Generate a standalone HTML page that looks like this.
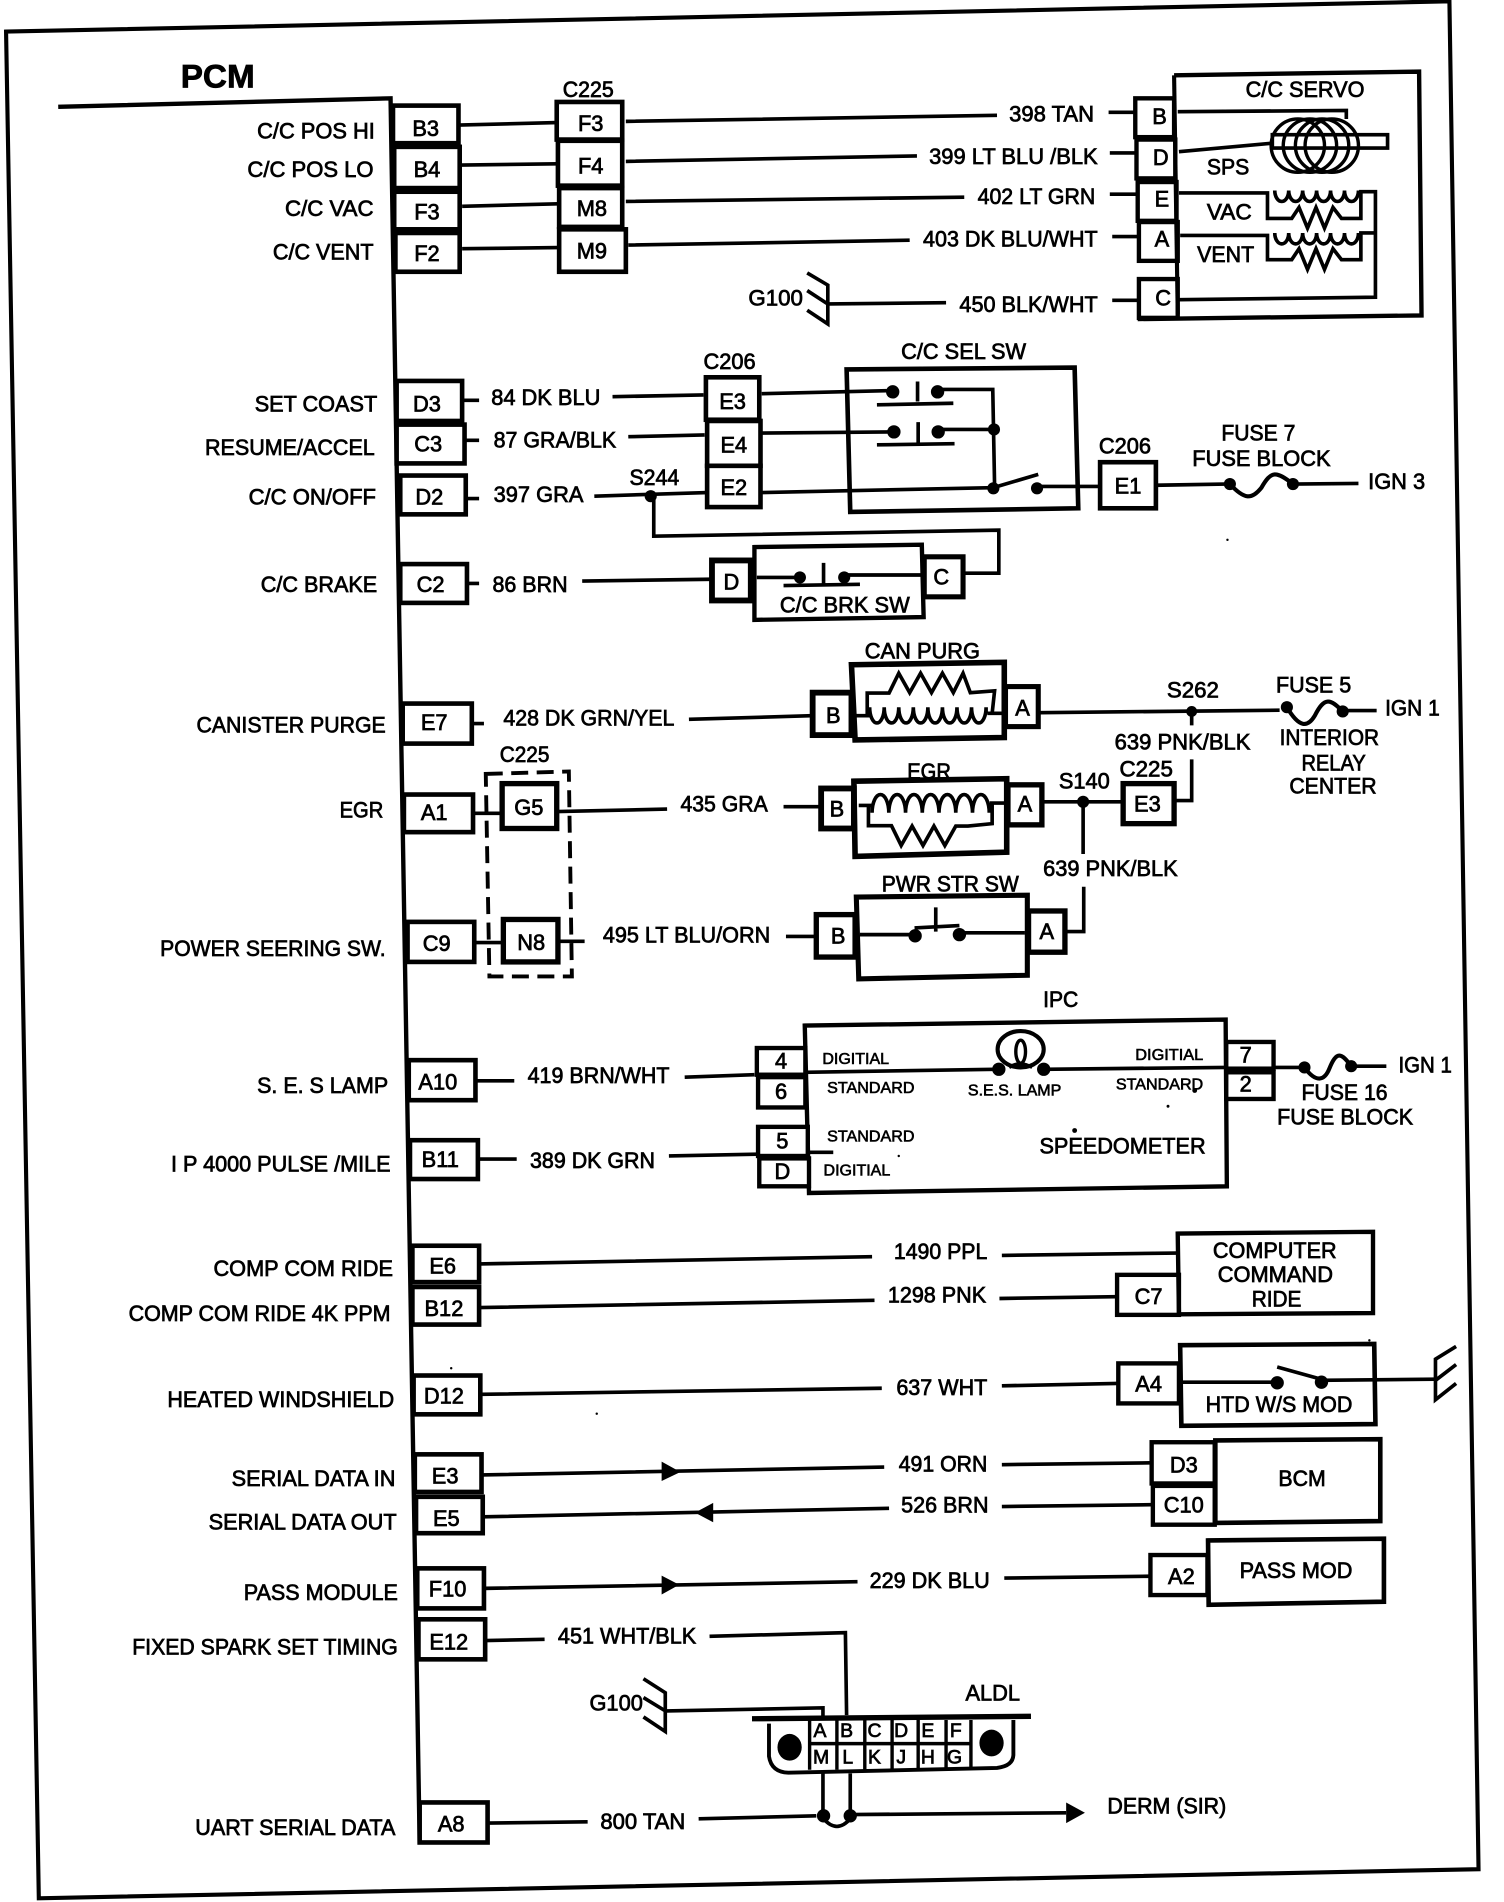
<!DOCTYPE html>
<html>
<head>
<meta charset="utf-8">
<title>PCM wiring diagram</title>
<style>
html,body{margin:0;padding:0;background:#fff}
svg{display:block}
text{font-family:"Liberation Sans",Arial,sans-serif;font-size:18px;fill:#000;stroke:#000;stroke-width:.6px}
.s{font-size:13px;stroke-width:.5px}
</style>
</head>
<body>
<svg xmlns="http://www.w3.org/2000/svg" width="1504" height="1902" viewBox="0 0 1240 1568">
<rect width="1240" height="1568" fill="#fff"/>

<!-- frame + PCM edge -->
<g fill="none" stroke="#000" stroke-width="3.4">
<path d="M5 26L1195 1L1219 1541L32 1565Z"/>
<path d="M48 88L322 81L346 1520" stroke-width="3.6"/>

<!-- pin boxes -->
<g stroke-width="3.8" fill="#fff">
<rect x="324" y="87" width="54" height="31"/>
<rect x="325" y="121" width="54" height="34"/>
<rect x="325" y="158" width="54" height="31"/>
<rect x="326" y="192" width="53" height="32"/>
<rect x="459" y="84" width="54" height="31"/>
<rect x="460" y="116" width="53" height="37"/>
<rect x="461" y="155" width="52" height="32"/>
<rect x="461" y="189" width="55" height="35"/>
<rect x="327" y="314" width="54" height="33"/>
<rect x="327" y="350" width="56" height="32"/>
<rect x="330" y="392" width="54" height="32"/>
<rect x="330" y="465" width="55" height="32"/>
<rect x="582" y="311" width="44" height="35"/>
<rect x="583" y="347" width="44" height="37"/>
<rect x="583" y="384" width="44" height="34"/>
<rect x="332" y="580" width="57" height="33"/>
<rect x="333" y="655" width="57" height="31"/>
<rect x="336" y="760" width="55" height="33"/>
<rect x="337" y="874" width="55" height="33"/>
<rect x="338" y="940" width="56" height="32"/>
<rect x="340" y="1027" width="55" height="30"/>
<rect x="340" y="1061" width="55" height="31"/>
<rect x="341" y="1134" width="55" height="32"/>
<rect x="342" y="1199" width="55" height="31"/>
<rect x="343" y="1234" width="55" height="30"/>
<rect x="344" y="1293" width="55" height="33"/>
<rect x="345" y="1335" width="55" height="33"/>
<rect x="346" y="1486" width="56" height="33"/>
<rect x="414" y="646" width="45" height="37" stroke-width="4.400"/>
<rect x="415" y="758" width="45" height="35" stroke-width="4.400"/>
<rect x="907" y="381" width="46" height="38"/>
<rect x="926" y="646" width="42" height="33" stroke-width="4.400"/>
</g>

<!-- C/C servo -->
<path d="M968 62L1170 59L1172 260L938 263" stroke-width="3.600"/>
<path d="M968 62L971 259"/>
<g stroke-width="3.600">
<rect x="936" y="81" width="32" height="32"/>
<rect x="937" y="115" width="32" height="32"/>
<rect x="938" y="150" width="32" height="32"/>
<rect x="939" y="183" width="32" height="32"/>
<rect x="939" y="230" width="32" height="32"/>
</g>
<path d="M971 92L1110 91V98M972 125L1049 118M972 159L1045 159V180H1065L1071 171L1078 188L1085 171L1092 188L1099 171L1106 180H1122V158H1134L1134 245L972 247M973 194L1045 194V214H1065L1071 205L1078 222L1085 205L1092 222L1099 205L1106 214H1122V192H1133" stroke-width="3"/>
<path d="M1051 157a5.750 9 0 0 0 11.500 0a5.750 9 0 0 0 11.500 0a5.750 9 0 0 0 11.500 0a5.750 9 0 0 0 11.500 0a5.750 9 0 0 0 11.500 0a5.750 9 0 0 0 11.500 0M1051 192a5.750 9 0 0 0 11.500 0a5.750 9 0 0 0 11.500 0a5.750 9 0 0 0 11.500 0a5.750 9 0 0 0 11.500 0a5.750 9 0 0 0 11.500 0a5.750 9 0 0 0 11.500 0" stroke-width="3"/>
<rect x="1049" y="111" width="95" height="11" stroke-width="3"/>
<ellipse cx="1070" cy="120" rx="22" ry="22" stroke-width="2.800"/>
<ellipse cx="1080" cy="120" rx="22" ry="22" stroke-width="2.800"/>
<ellipse cx="1090" cy="120" rx="22" ry="22" stroke-width="2.800"/>
<ellipse cx="1098" cy="120" rx="22" ry="22" stroke-width="2.800"/>

<!-- top wires -->
<g stroke-width="3">
<path d="M378 103L459 101M380 136L459 135M381 170L460 168M381 205L460 204"/>
<path d="M516 100L822 95M914 92.500H935M516 133L756 128.500M915 126H936M516 166L795 162.500M915 160H937M518 202L750 198M917 195H938"/>
<path d="M683 250.500L780 249.500M917 247.500H938"/>
<path d="M665.500 225L682.500 235V267L665.500 255.700M665.500 239.500L682.500 250.600"/>

<!-- section 2 stubs -->
<path d="M381 330H395M384 363H395M384 411H395M385 481H395"/>
<path d="M505 327L580 325.500M518 360L581 358.500M490 409L583 406"/>
<path d="M539 412V442L823.500 437V472.500H795"/>
<path d="M480 479L586 477.500"/>
<path d="M628 324.500L731 322M773 321H818.500L820 400M628 357L737 356M773 354H820M628 406L818 402"/>
<path d="M756.500 314.500V331M723 333.700L786 332.400M757 348V365M723 366.700L787 365.700"/>
<path d="M819 402L856 391M855 401H907"/>
<path d="M953 400L1010 399M1066 399L1120 398.500"/>
<path d="M1014 399C1026 412 1032 412 1040 402C1048 388 1052 388 1066 399" stroke-width="3.400"/>
</g>
<path d="M698 304.500L886 303L889 419L701 422Z" stroke-width="3.800"/>

<!-- C/C BRK SW -->
<path d="M622 451L760 449L761.500 508.700L622 511Z" stroke-width="3.600"/>
<rect x="587" y="462" width="32" height="33" stroke-width="4.800"/>
<rect x="762" y="459" width="32" height="33" stroke-width="4.200"/>
<path d="M624 476L656 476M679 464V481M646 482.700L709 481.700M696 474H760" stroke-width="3"/>

<!-- CAN PURG -->
<path d="M702 548L828 546L828 608L705 610Z" stroke-width="4.600"/>
<rect x="670" y="571" width="32" height="35" stroke-width="4.800"/>
<rect x="829" y="566" width="27" height="33" stroke-width="4.200"/>
<g stroke-width="3">
<path d="M706 590H717M814 588H826M715 590V571.300H733L741 555L750 571L759 555L768 571L777 555L786 571L794 555L800 571L820 569.500L818 588"/>
<path d="M717 590V583a6 13 0 0 0 12 0a6 13 0 0 0 12 0a6 13 0 0 0 12 0a6 13 0 0 0 12 0a6 13 0 0 0 12 0a6 13 0 0 0 12 0a6 13 0 0 0 12 0a6 13 0 0 0 12 0V588"/>
<path d="M568 593L669 590M857 587.500L1055 585.500M982.500 590V598M1107 585.800H1135"/>
<path d="M1061 583C1071 600 1078 600 1084 590C1092 574 1097 576 1107 586.500" stroke-width="3.400"/>
<path d="M982.500 626V660H968M859 661H926M893 661V704M389 596.500H399"/>
</g>

<!-- EGR -->
<text x="748" y="642" textLength="36" lengthAdjust="spacingAndGlyphs" fill="#000" stroke="#000">EGR</text>
<path d="M704 644L830 642L830 702.500L705 706Z" stroke-width="4.600"/>
<rect x="677" y="650" width="27" height="33" stroke-width="4.800"/>
<rect x="831" y="647" width="28" height="33" stroke-width="4.400"/>
<g stroke-width="3">
<path d="M646 665H675M708 664H719M816 662H828M716 664V680.700H735L743 697L752 681L761 697L770 681L779 697L788 681L798 681L818 679V662"/>
<path d="M719 664V670a6.900 15 0 0 1 13.800 0a6.900 15 0 0 1 13.800 0a6.900 15 0 0 1 13.800 0a6.900 15 0 0 1 13.800 0a6.900 15 0 0 1 13.800 0a6.900 15 0 0 1 13.800 0a6.900 15 0 0 1 13.800 0V662"/>
</g>

<!-- PWR STR SW -->
<path d="M706 739.500L847 738L847 804L708 807Z" stroke-width="4.200"/>
<rect x="673" y="754" width="32" height="35" stroke-width="4.400"/>
<rect x="848" y="751" width="30" height="34" stroke-width="4.400"/>
<g stroke-width="3">
<path d="M648 772H672M709 770.500H754M791 769H845M754 765L791 763M771.500 748V768M879 768H893.500V731"/>
<path d="M390.700 670.500H414M459 669L550 667M391 777H415M460.500 776H482"/>
<path d="M400.500 638L469 636L471.500 805H403.500Z" stroke-width="3.200" stroke-dasharray="14 7"/>
</g>

<!-- IPC -->
<path d="M663.500 845.500L1010.500 840.500L1011.500 978L667 983.500Z" stroke-width="3.600"/>
<g stroke-width="3.600" fill="#fff">
<rect x="624" y="864" width="40" height="22"/>
<rect x="625" y="888" width="39" height="25"/>
<rect x="625" y="929" width="41" height="24"/>
<rect x="626" y="955" width="41" height="23"/>
<rect x="1011" y="859" width="39" height="22"/>
<rect x="1011" y="884" width="39" height="22"/>
</g>
<g stroke-width="3">
<path d="M392 891H424M564.500 888L622 886M394 955.500H426M551.500 953L624 951.500"/>
<path d="M663.500 884L820 881.500M860 881.500L1011 880M665.500 950H687M1050 880H1075M1114 879H1143"/>
<path d="M1075.500 880C1085 893 1092 891 1096 881C1102 866 1106 868 1114 879" stroke-width="3.400"/>
</g>
<ellipse cx="841.500" cy="865" rx="19" ry="15" stroke-width="3.400"/>
<ellipse cx="841.500" cy="867" rx="4" ry="9.500" stroke-width="2.800"/>
<path d="M832 880Q841 874 851 880" stroke-width="2.800"/>

<!-- lower modules -->
<path d="M971 1017L1132 1015.500V1082.500L972 1083.500Z" stroke-width="3.600"/>
<rect x="921" y="1051" width="51" height="33" stroke-width="3.600"/>
<path d="M973 1109L1133 1108L1134 1174L974 1175.500Z" stroke-width="3.800"/>
<rect x="922" y="1124" width="50" height="33" stroke-width="3.600"/>
<path d="M1002 1187.500L1138 1186.500V1254L1002 1255.500Z" stroke-width="3.800"/>
<rect x="949.500" y="1189" width="52" height="34" stroke-width="3.600"/>
<rect x="950.500" y="1225" width="51" height="32" stroke-width="3.600"/>
<path d="M996 1270L1141 1268.500V1320.500L996.500 1323Z" stroke-width="3.800"/>
<rect x="948.500" y="1282" width="47" height="33" stroke-width="3.600"/>
<g stroke-width="3">
<path d="M395 1042L719 1036M826 1035L970 1033M395 1078L721 1072M824 1070.500L920 1069"/>
<path d="M397 1149.500L727 1144.500M826 1142.500L921 1140.500M975 1139.500H1053M1053 1127L1089 1137M1089 1138L1183 1137"/>
<path d="M1200.500 1110L1183.500 1120.500V1154L1200.500 1140.500M1183.500 1138L1200.500 1125"/>
<path d="M397 1216L729 1209.500M826 1207.500L949 1206M398 1250.500L733 1243.500M826 1242L949 1240.500"/>
<path d="M399 1309.500L707 1304M828 1301L948 1299.500"/>
<path d="M400 1352.500L449 1351.500M585 1349L697 1346L698 1414"/>
<path d="M530.500 1384L548.500 1395.500V1427.500L530.500 1415.500M530.500 1399.500L548.500 1410.500"/>
<path d="M549.500 1410.500L678.500 1408V1415.500"/>
<path d="M402.500 1503L484.500 1502M576 1499.500L673 1497M701 1496L879 1494.500"/>
<path d="M678.500 1462V1495M701 1462V1495M679 1499.500Q690 1512 701 1499.500"/>
</g>

<!-- ALDL -->
<path d="M620 1417L850 1415" stroke-width="4.400"/>
<path d="M634 1421V1448Q636 1461 650 1461.500L822 1457.500Q835 1456 835.500 1447V1418" stroke-width="3.200"/>
<path d="M667.500 1418V1459M690 1418V1459M713 1418V1459M735.500 1418V1459M757 1418V1459M780 1418V1459M800.500 1418V1459M667.500 1437.500H800.500" stroke-width="2.800"/>
</g>

<!-- dots and arrowheads -->
<g fill="#000" stroke="none">
<circle cx="536.500" cy="409" r="5"/>
<circle cx="736" cy="323" r="5.500"/><circle cx="773" cy="323" r="5.500"/>
<circle cx="737" cy="356" r="5.500"/><circle cx="773.500" cy="356" r="5.500"/>
<circle cx="819.500" cy="354" r="5"/><circle cx="819" cy="402.500" r="5"/><circle cx="855" cy="402.500" r="5"/>
<circle cx="1014" cy="399" r="5"/><circle cx="1066" cy="399" r="5"/>
<circle cx="659.500" cy="476" r="5"/><circle cx="696" cy="476" r="5"/>
<circle cx="982.500" cy="586.500" r="4.500"/><circle cx="1061" cy="583" r="5"/><circle cx="1107" cy="586.500" r="5"/>
<circle cx="893" cy="661" r="5"/>
<circle cx="754.500" cy="771.500" r="5.500"/><circle cx="791" cy="770.500" r="5.500"/>
<circle cx="823.500" cy="881.500" r="5.500"/><circle cx="860.500" cy="881.500" r="5.500"/>
<circle cx="1075.500" cy="880" r="5"/><circle cx="1114" cy="879" r="5"/>
<circle cx="1053" cy="1140" r="5.500"/><circle cx="1089.500" cy="1139.500" r="5.500"/>
<circle cx="679" cy="1497" r="5.500"/><circle cx="701" cy="1497" r="5.500"/>
<ellipse cx="651" cy="1440.500" rx="10" ry="11"/><ellipse cx="817.500" cy="1437" rx="10" ry="11"/>
<path d="M545.500 1205L561 1213.500L545.500 1221Z"/>
<path d="M588 1239L573 1247L588 1255Z"/>
<path d="M545.500 1299L560 1306.500L545.500 1314.500Z"/>
<path d="M879 1486L894.500 1494.500L879 1503Z"/>
<!-- scan specks -->
<circle cx="492" cy="1165.500" r="1"/><circle cx="1012" cy="445" r="1"/><circle cx="1129" cy="1105" r="1"/>
<circle cx="886" cy="932" r="2"/><circle cx="963" cy="912" r="1.200"/><circle cx="985" cy="899" r="2"/>
<circle cx="741" cy="953" r="1"/><circle cx="372" cy="1128" r="1"/>
</g>

<!-- PCM side labels -->
<text x="149" y="72" style="font-size:27px;font-weight:bold" textLength="61" lengthAdjust="spacingAndGlyphs">PCM</text>
<text x="212" y="114" textLength="97" lengthAdjust="spacingAndGlyphs">C/C POS HI</text>
<text x="204" y="146" textLength="104" lengthAdjust="spacingAndGlyphs">C/C POS LO</text>
<text x="235" y="178" textLength="73" lengthAdjust="spacingAndGlyphs">C/C VAC</text>
<text x="225" y="214" textLength="83" lengthAdjust="spacingAndGlyphs">C/C VENT</text>
<text x="210" y="339" textLength="101" lengthAdjust="spacingAndGlyphs">SET COAST</text>
<text x="169" y="375" textLength="140" lengthAdjust="spacingAndGlyphs">RESUME/ACCEL</text>
<text x="205" y="416" textLength="105" lengthAdjust="spacingAndGlyphs">C/C ON/OFF</text>
<text x="215" y="488" textLength="96" lengthAdjust="spacingAndGlyphs">C/C BRAKE</text>
<text x="162" y="604" textLength="156" lengthAdjust="spacingAndGlyphs">CANISTER PURGE</text>
<text x="280" y="674" textLength="36" lengthAdjust="spacingAndGlyphs">EGR</text>
<text x="132" y="788" textLength="186" lengthAdjust="spacingAndGlyphs">POWER SEERING SW.</text>
<text x="212" y="901" textLength="108" lengthAdjust="spacingAndGlyphs">S. E. S LAMP</text>
<text x="141" y="966" textLength="181" lengthAdjust="spacingAndGlyphs">I P 4000 PULSE /MILE</text>
<text x="176" y="1052" textLength="148" lengthAdjust="spacingAndGlyphs">COMP COM RIDE</text>
<text x="106" y="1089" textLength="216" lengthAdjust="spacingAndGlyphs">COMP COM RIDE 4K PPM</text>
<text x="138" y="1160" textLength="187" lengthAdjust="spacingAndGlyphs">HEATED WINDSHIELD</text>
<text x="191" y="1225" textLength="135" lengthAdjust="spacingAndGlyphs">SERIAL DATA IN</text>
<text x="172" y="1261" textLength="155" lengthAdjust="spacingAndGlyphs">SERIAL DATA OUT</text>
<text x="201" y="1319" textLength="127" lengthAdjust="spacingAndGlyphs">PASS MODULE</text>
<text x="109" y="1364" textLength="219" lengthAdjust="spacingAndGlyphs">FIXED SPARK SET TIMING</text>
<text x="161" y="1513" textLength="165" lengthAdjust="spacingAndGlyphs">UART SERIAL DATA</text>

<!-- pin labels -->
<g text-anchor="middle">
<text x="351" y="112">B3</text><text x="352" y="146">B4</text><text x="352" y="181">F3</text><text x="352" y="215">F2</text>
<text x="487" y="108">F3</text><text x="487" y="143">F4</text><text x="488" y="178">M8</text><text x="488" y="213">M9</text>
<text x="352" y="339">D3</text><text x="353" y="372">C3</text><text x="354" y="416">D2</text><text x="355" y="488">C2</text>
<text x="604" y="337">E3</text><text x="605" y="373">E4</text><text x="605" y="408">E2</text>
<text x="358" y="602">E7</text><text x="358" y="676">A1</text><text x="360" y="784">C9</text>
<text x="436" y="672">G5</text><text x="438" y="783">N8</text>
<text x="361" y="898">A10</text><text x="363" y="962">B11</text>
<text x="365" y="1050">E6</text><text x="366" y="1085">B12</text><text x="366" y="1157">D12</text>
<text x="367" y="1223">E3</text><text x="368" y="1258">E5</text><text x="369" y="1316">F10</text><text x="370" y="1360">E12</text><text x="372" y="1510">A8</text>
<text x="956" y="102">B</text><text x="957" y="136">D</text><text x="958" y="170">E</text><text x="958" y="203">A</text><text x="959" y="252">C</text>
<text x="930" y="407">E1</text><text x="603" y="486">D</text><text x="776" y="482">C</text>
<text x="687" y="596">B</text><text x="843" y="590">A</text>
<text x="690" y="673">B</text><text x="845" y="669">A</text><text x="946" y="669">E3</text>
<text x="691" y="778">B</text><text x="863" y="774">A</text>
<text x="644" y="881">4</text><text x="644" y="906">6</text><text x="645" y="947">5</text><text x="645" y="972">D</text>
<text x="1027" y="876">7</text><text x="1027" y="900">2</text>
<text x="947" y="1075">C7</text><text x="947" y="1147">A4</text><text x="976" y="1214">D3</text><text x="976" y="1247">C10</text><text x="974" y="1306">A2</text>
</g>
<g text-anchor="middle">
<text x="676" y="1432" style="font-size:16px">A</text><text x="698" y="1432" style="font-size:16px">B</text><text x="721" y="1432" style="font-size:16px">C</text><text x="743" y="1432" style="font-size:16px">D</text><text x="765" y="1432" style="font-size:16px">E</text><text x="788" y="1432" style="font-size:16px">F</text>
<text x="677" y="1454" style="font-size:16px">M</text><text x="699" y="1454" style="font-size:16px">L</text><text x="721" y="1454" style="font-size:16px">K</text><text x="743" y="1454" style="font-size:16px">J</text><text x="765" y="1454" style="font-size:16px">H</text><text x="787" y="1454" style="font-size:16px">G</text>
</g>

<!-- wire & component labels -->
<text x="464" y="80" textLength="42" lengthAdjust="spacingAndGlyphs">C225</text>
<text x="832" y="100" textLength="70" lengthAdjust="spacingAndGlyphs">398 TAN</text>
<text x="766" y="135" textLength="139" lengthAdjust="spacingAndGlyphs">399 LT BLU /BLK</text>
<text x="806" y="168" textLength="97" lengthAdjust="spacingAndGlyphs">402 LT GRN</text>
<text x="761" y="203" textLength="144" lengthAdjust="spacingAndGlyphs">403 DK BLU/WHT</text>
<text x="617" y="252" textLength="45" lengthAdjust="spacingAndGlyphs">G100</text>
<text x="791" y="257" textLength="114" lengthAdjust="spacingAndGlyphs">450 BLK/WHT</text>
<text x="1027" y="80" textLength="98" lengthAdjust="spacingAndGlyphs">C/C SERVO</text>
<text x="995" y="144" textLength="35" lengthAdjust="spacingAndGlyphs">SPS</text>
<text x="995" y="181" textLength="37" lengthAdjust="spacingAndGlyphs">VAC</text>
<text x="987" y="216" textLength="47" lengthAdjust="spacingAndGlyphs">VENT</text>
<text x="580" y="304" textLength="43" lengthAdjust="spacingAndGlyphs">C206</text>
<text x="405" y="334" textLength="90" lengthAdjust="spacingAndGlyphs">84 DK BLU</text>
<text x="407" y="369" textLength="101" lengthAdjust="spacingAndGlyphs">87 GRA/BLK</text>
<text x="407" y="414" textLength="74" lengthAdjust="spacingAndGlyphs">397 GRA</text>
<text x="406" y="488" textLength="62" lengthAdjust="spacingAndGlyphs">86 BRN</text>
<text x="519" y="400" textLength="41" lengthAdjust="spacingAndGlyphs">S244</text>
<text x="743" y="296" textLength="103" lengthAdjust="spacingAndGlyphs">C/C SEL SW</text>
<text x="906" y="374" textLength="43" lengthAdjust="spacingAndGlyphs">C206</text>
<text x="1007" y="363" textLength="61" lengthAdjust="spacingAndGlyphs">FUSE 7</text>
<text x="983" y="384" textLength="114" lengthAdjust="spacingAndGlyphs">FUSE BLOCK</text>
<text x="1128" y="403" textLength="47" lengthAdjust="spacingAndGlyphs">IGN 3</text>
<text x="643" y="505" textLength="107" lengthAdjust="spacingAndGlyphs">C/C BRK SW</text>
<text x="415" y="598" textLength="141" lengthAdjust="spacingAndGlyphs">428 DK GRN/YEL</text>
<text x="713" y="543" textLength="95" lengthAdjust="spacingAndGlyphs">CAN PURG</text>
<text x="962" y="575" textLength="43" lengthAdjust="spacingAndGlyphs">S262</text>
<text x="1052" y="571" textLength="62" lengthAdjust="spacingAndGlyphs">FUSE 5</text>
<text x="1142" y="590" textLength="45" lengthAdjust="spacingAndGlyphs">IGN 1</text>
<text x="1055" y="614" textLength="82" lengthAdjust="spacingAndGlyphs">INTERIOR</text>
<text x="1073" y="635" textLength="53" lengthAdjust="spacingAndGlyphs">RELAY</text>
<text x="1063" y="654" textLength="72" lengthAdjust="spacingAndGlyphs">CENTER</text>
<text x="919" y="618" textLength="112" lengthAdjust="spacingAndGlyphs">639 PNK/BLK</text>
<text x="923" y="640" textLength="44" lengthAdjust="spacingAndGlyphs">C225</text>
<text x="873" y="650" textLength="42" lengthAdjust="spacingAndGlyphs">S140</text>
<text x="412" y="628" textLength="41" lengthAdjust="spacingAndGlyphs">C225</text>
<text x="561" y="669" textLength="72" lengthAdjust="spacingAndGlyphs">435 GRA</text>
<text x="860" y="722" textLength="111" lengthAdjust="spacingAndGlyphs">639 PNK/BLK</text>
<text x="727" y="735" textLength="113" lengthAdjust="spacingAndGlyphs">PWR STR SW</text>
<text x="497" y="777" textLength="138" lengthAdjust="spacingAndGlyphs">495 LT BLU/ORN</text>
<text x="860" y="830" textLength="29" lengthAdjust="spacingAndGlyphs">IPC</text>
<text x="435" y="893" textLength="117" lengthAdjust="spacingAndGlyphs">419 BRN/WHT</text>
<text x="437" y="963" textLength="103" lengthAdjust="spacingAndGlyphs">389 DK GRN</text>
<text class="s" x="678" y="877" textLength="55" lengthAdjust="spacingAndGlyphs">DIGITIAL</text>
<text class="s" x="682" y="901" textLength="72" lengthAdjust="spacingAndGlyphs">STANDARD</text>
<text class="s" x="798" y="903" textLength="77" lengthAdjust="spacingAndGlyphs">S.E.S. LAMP</text>
<text class="s" x="936" y="874" textLength="56" lengthAdjust="spacingAndGlyphs">DIGITIAL</text>
<text class="s" x="920" y="898" textLength="72" lengthAdjust="spacingAndGlyphs">STANDARD</text>
<text class="s" x="682" y="941" textLength="72" lengthAdjust="spacingAndGlyphs">STANDARD</text>
<text class="s" x="679" y="969" textLength="55" lengthAdjust="spacingAndGlyphs">DIGITIAL</text>
<text x="857" y="951" textLength="137" lengthAdjust="spacingAndGlyphs">SPEEDOMETER</text>
<text x="1153" y="884" textLength="44" lengthAdjust="spacingAndGlyphs">IGN 1</text>
<text x="1073" y="907" textLength="71" lengthAdjust="spacingAndGlyphs">FUSE 16</text>
<text x="1053" y="927" textLength="112" lengthAdjust="spacingAndGlyphs">FUSE BLOCK</text>
<text x="737" y="1038" textLength="77" lengthAdjust="spacingAndGlyphs">1490 PPL</text>
<text x="732" y="1074" textLength="81" lengthAdjust="spacingAndGlyphs">1298 PNK</text>
<text x="1000" y="1037" textLength="102" lengthAdjust="spacingAndGlyphs">COMPUTER</text>
<text x="1004" y="1057" textLength="95" lengthAdjust="spacingAndGlyphs">COMMAND</text>
<text x="1032" y="1077" textLength="41" lengthAdjust="spacingAndGlyphs">RIDE</text>
<text x="739" y="1150" textLength="75" lengthAdjust="spacingAndGlyphs">637 WHT</text>
<text x="994" y="1164" textLength="121" lengthAdjust="spacingAndGlyphs">HTD W/S MOD</text>
<text x="741" y="1213" textLength="73" lengthAdjust="spacingAndGlyphs">491 ORN</text>
<text x="743" y="1247" textLength="72" lengthAdjust="spacingAndGlyphs">526 BRN</text>
<text x="1054" y="1225" textLength="39" lengthAdjust="spacingAndGlyphs">BCM</text>
<text x="717" y="1309" textLength="99" lengthAdjust="spacingAndGlyphs">229 DK BLU</text>
<text x="1022" y="1301" textLength="93" lengthAdjust="spacingAndGlyphs">PASS MOD</text>
<text x="460" y="1355" textLength="114" lengthAdjust="spacingAndGlyphs">451 WHT/BLK</text>
<text x="486" y="1410" textLength="44" lengthAdjust="spacingAndGlyphs">G100</text>
<text x="796" y="1402" textLength="45" lengthAdjust="spacingAndGlyphs">ALDL</text>
<text x="495" y="1508" textLength="70" lengthAdjust="spacingAndGlyphs">800 TAN</text>
<text x="913" y="1495" textLength="98" lengthAdjust="spacingAndGlyphs">DERM (SIR)</text>
</svg>
</body>
</html>
